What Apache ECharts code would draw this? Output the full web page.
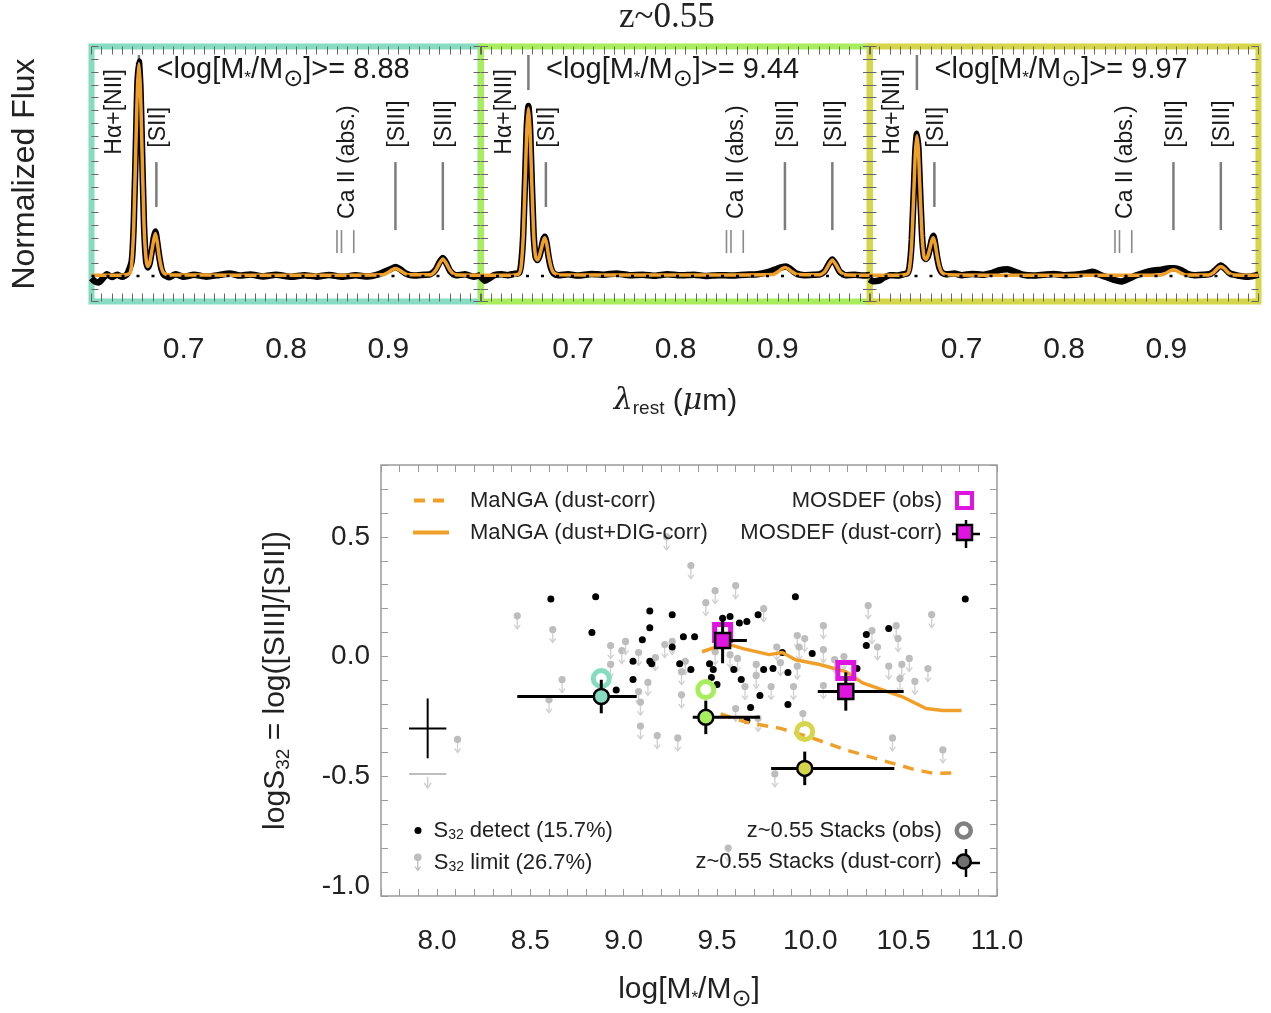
<!DOCTYPE html>
<html>
<head>
<meta charset="utf-8">
<title>S32 vs stellar mass, z~0.55 stacks</title>
<script src="https://cdn.jsdelivr.net/npm/echarts@6/dist/echarts.min.js"></script>
<style>
  html, body { margin: 0; padding: 0; background: #fff; }
  #chart { width: 1271px; height: 1013px; }
</style>
</head>
<body>
<div id="chart"></div>
<script>
// ---------- top: stacked spectra (rest wavelength in micron, normalized flux) ----------
const panelMass = ['8.88', '9.44', '9.97'];
const waveTickLabels = ['0.7', '0.8', '0.9'];

const spec1Obs = [[0.610,-0.010],[0.613,-0.025],[0.617,-0.030],[0.621,-0.012],[0.625,0.008],[0.630,-0.005],[0.635,0.006],[0.640,-0.004],[0.645,0.010],[0.6493,0.07],[0.6513,0.25],[0.6538,0.71],[0.6548,0.90],[0.6563,1.01],[0.6578,0.89],[0.6588,0.71],[0.6613,0.24],[0.6633,0.07],[0.6650,0.04],[0.6668,0.06],[0.6690,0.12],[0.6708,0.18],[0.6724,0.21],[0.6742,0.16],[0.6762,0.09],[0.6785,0.03],[0.6810,0.005],[0.686,-0.006],[0.692,0.008],[0.700,-0.004],[0.710,0.006],[0.722,-0.003],[0.735,0.005],[0.745,0.012],[0.755,0.002],[0.765,0.007],[0.778,-0.002],[0.790,0.006],[0.805,-0.004],[0.818,0.004],[0.830,-0.003],[0.842,0.005],[0.855,-0.004],[0.868,0.003],[0.880,-0.002],[0.890,0.008],[0.896,0.020],[0.902,0.032],[0.907,0.042],[0.912,0.030],[0.917,0.012],[0.925,0.002],[0.935,0.006],[0.941,0.008],[0.946,0.028],[0.950,0.065],[0.9532,0.085],[0.9565,0.062],[0.9605,0.022],[0.966,0.003],[0.975,0.008],[0.983,-0.004],[0.990,0.004]];
const spec1Fit = [[0.610,0.004],[0.640,0.004],[0.6473,0.012],[0.6493,0.06],[0.6513,0.24],[0.6538,0.70],[0.6548,0.88],[0.6563,1.00],[0.6578,0.88],[0.6588,0.70],[0.6613,0.24],[0.6633,0.08],[0.6650,0.045],[0.6668,0.06],[0.6690,0.12],[0.6708,0.17],[0.6724,0.20],[0.6742,0.16],[0.6762,0.09],[0.6785,0.035],[0.6810,0.012],[0.6860,0.005],[0.750,0.004],[0.850,0.004],[0.895,0.006],[0.900,0.018],[0.904,0.030],[0.907,0.035],[0.910,0.030],[0.914,0.018],[0.919,0.006],[0.941,0.006],[0.946,0.025],[0.950,0.060],[0.9532,0.080],[0.9565,0.060],[0.9605,0.025],[0.9655,0.006],[0.990,0.004]];

const spec2Obs = [[0.610,-0.005],[0.614,-0.022],[0.618,-0.012],[0.623,0.004],[0.630,0.008],[0.636,0.004],[0.642,0.010],[0.6473,0.015],[0.6493,0.06],[0.6513,0.20],[0.6538,0.57],[0.6548,0.71],[0.6563,0.80],[0.6578,0.71],[0.6588,0.57],[0.6613,0.21],[0.6633,0.09],[0.6650,0.075],[0.6668,0.09],[0.6690,0.13],[0.6708,0.17],[0.6724,0.185],[0.6742,0.15],[0.6762,0.085],[0.6785,0.035],[0.6810,0.012],[0.686,0.003],[0.695,0.008],[0.705,0.002],[0.718,0.010],[0.730,0.006],[0.742,0.012],[0.755,0.004],[0.768,0.006],[0.780,0.001],[0.792,0.008],[0.805,0.003],[0.818,0.006],[0.830,0.000],[0.842,0.004],[0.855,0.002],[0.868,0.006],[0.880,0.008],[0.890,0.018],[0.897,0.030],[0.903,0.040],[0.908,0.045],[0.913,0.030],[0.918,0.012],[0.926,0.004],[0.935,0.006],[0.941,0.008],[0.946,0.024],[0.950,0.058],[0.9532,0.078],[0.9565,0.056],[0.9605,0.020],[0.966,0.004],[0.975,0.006],[0.983,0.002],[0.990,0.005]];
const spec2Fit = [[0.610,0.003],[0.640,0.004],[0.6473,0.012],[0.6493,0.05],[0.6513,0.19],[0.6538,0.55],[0.6548,0.69],[0.6563,0.79],[0.6578,0.70],[0.6588,0.56],[0.6613,0.21],[0.6633,0.09],[0.6650,0.075],[0.6668,0.09],[0.6690,0.13],[0.6708,0.165],[0.6724,0.18],[0.6742,0.15],[0.6762,0.09],[0.6785,0.04],[0.6810,0.015],[0.6860,0.006],[0.750,0.005],[0.850,0.005],[0.895,0.007],[0.900,0.020],[0.904,0.034],[0.907,0.040],[0.910,0.034],[0.914,0.020],[0.919,0.007],[0.941,0.006],[0.946,0.022],[0.950,0.055],[0.9532,0.075],[0.9565,0.055],[0.9605,0.022],[0.9655,0.006],[0.990,0.004]];

const spec3Obs = [[0.610,-0.015],[0.614,-0.025],[0.619,-0.022],[0.624,-0.008],[0.630,0.004],[0.637,0.002],[0.643,0.008],[0.6473,0.014],[0.6493,0.05],[0.6513,0.17],[0.6538,0.47],[0.6548,0.59],[0.6563,0.67],[0.6578,0.60],[0.6588,0.48],[0.6613,0.19],[0.6633,0.09],[0.6650,0.08],[0.6668,0.09],[0.6690,0.13],[0.6708,0.17],[0.6724,0.19],[0.6742,0.15],[0.6762,0.085],[0.6785,0.035],[0.6810,0.015],[0.686,0.008],[0.693,0.012],[0.700,0.004],[0.710,0.010],[0.720,0.006],[0.730,0.015],[0.737,0.028],[0.745,0.032],[0.752,0.020],[0.760,0.006],[0.770,0.002],[0.780,0.006],[0.790,0.010],[0.800,0.004],[0.810,0.006],[0.820,0.012],[0.828,0.020],[0.835,0.006],[0.843,-0.008],[0.850,-0.020],[0.856,-0.026],[0.862,-0.015],[0.870,0.002],[0.878,0.015],[0.886,0.025],[0.895,0.030],[0.903,0.036],[0.908,0.036],[0.914,0.028],[0.920,0.012],[0.928,0.004],[0.936,0.006],[0.943,0.010],[0.948,0.028],[0.9532,0.050],[0.957,0.036],[0.962,0.012],[0.970,0.002],[0.980,-0.004],[0.990,0.006]];
const spec3Fit = [[0.610,0.003],[0.640,0.004],[0.6473,0.012],[0.6493,0.045],[0.6513,0.16],[0.6538,0.46],[0.6548,0.58],[0.6563,0.66],[0.6578,0.59],[0.6588,0.47],[0.6613,0.19],[0.6633,0.09],[0.6650,0.078],[0.6668,0.09],[0.6690,0.13],[0.6708,0.165],[0.6724,0.18],[0.6742,0.15],[0.6762,0.09],[0.6785,0.04],[0.6810,0.015],[0.6860,0.006],[0.750,0.004],[0.850,0.004],[0.895,0.005],[0.900,0.014],[0.904,0.025],[0.907,0.030],[0.910,0.025],[0.914,0.014],[0.919,0.005],[0.941,0.005],[0.946,0.016],[0.950,0.036],[0.9532,0.045],[0.9565,0.036],[0.9605,0.016],[0.9655,0.005],[0.990,0.004]];

const baseline = [[0.61, 0], [0.99, 0]];
const lineWaves = [0.6563, 0.6724, 0.8542, 0.9069, 0.9532];
const lineNames = ['Hα+[NII]', '[SII]', 'Ca II (abs.)', '[SIII]', '[SIII]'];
const caTriplet = [0.8498, 0.8542, 0.8662];

// ---------- bottom: logS32 vs stellar mass ----------
const massTickLabels = ['8.0', '8.5', '9.0', '9.5', '10.0', '10.5', '11.0'];
const s32TickLabels = ['-1.0', '-0.5', '0.0', '0.5'];

const detMass = [8.61, 8.85, 8.83, 9.14, 9.26, 9.14, 9.10, 9.32, 9.38, 9.26, 9.05, 9.14, 9.15, 9.30, 9.36, 9.46, 9.48, 9.47, 9.50, 9.05, 8.96, 9.53, 9.57, 9.62, 9.66, 9.72, 9.59, 9.63, 9.92, 10.83, 9.75, 9.80, 9.88, 9.85, 10.01, 10.30, 10.30, 10.42, 10.25, 9.73, 9.88, 9.68, 9.66];
const detS32 = [0.24, 0.25, 0.10, 0.19, 0.175, 0.12, 0.07, 0.083, 0.083, 0.04, -0.02, -0.02, -0.03, -0.03, -0.054, -0.03, -0.054, -0.087, -0.117, -0.096, -0.14, 0.16, 0.167, 0.14, 0.146, 0.175, -0.054, -0.096, 0.25, 0.24, -0.054, -0.05, -0.067, 0.017, 0.013, 0.092, 0.046, 0.117, -0.05, -0.163, -0.20, -0.213, -0.267];

const limMass = [8.43, 8.62, 8.93, 8.99, 9.01, 9.08, 9.17, 9.22, 9.26, 8.93, 9.33, 9.23, 8.67, 9.36, 9.49, 9.60, 9.44, 8.60, 9.13, 9.08, 9.09, 9.09, 9.18, 9.29, 9.31, 9.31, 9.49, 9.57, 9.61, 9.60, 9.65, 8.11, 9.75, 10.31, 10.65, 10.07, 9.93, 9.97, 9.94, 10.33, 10.46, 10.47, 10.36, 10.53, 10.49, 10.42, 10.63, 9.82, 9.93, 9.71, 10.18, 10.07, 10.48, 10.56, 10.13, 10.07, 9.91, 9.79, 9.71, 9.84, 9.96, 9.72, 10.44, 10.71, 9.56, 9.81];
const limS32 = [0.17, 0.113, 0.046, 0.025, 0.063, 0.017, -0.004, 0.05, 0.063, -0.033, -0.02, 0.50, -0.096, 0.38, 0.275, 0.296, 0.225, -0.18, -0.108, -0.146, -0.19, -0.29, -0.33, -0.34, -0.16, -0.063, 0.02, 0.008, -0.008, -0.217, -0.125, -0.346, 0.20, 0.213, 0.175, 0.129, 0.088, 0.075, 0.04, 0.108, 0.129, 0.075, 0.04, -0.008, -0.033, -0.04, -0.05, 0.04, -0.04, -0.033, 0.0, 0.029, -0.092, -0.104, -0.013, -0.121, -0.125, -0.125, -0.079, -0.025, -0.238, -0.258, -0.34, -0.39, -0.80, -0.49];

const mangaDustMass = [9.52, 9.66, 9.84, 10.01, 10.19, 10.37, 10.55, 10.66, 10.79];
const mangaDustS32 = [-0.24, -0.275, -0.30, -0.34, -0.39, -0.43, -0.47, -0.488, -0.485];
const mangaDigMass = [9.42, 9.55, 9.64, 9.78, 9.85, 9.92, 10.05, 10.19, 10.28, 10.49, 10.62, 10.71, 10.81];
const mangaDigS32 = [0.02, 0.054, 0.033, 0.008, 0.017, -0.013, -0.033, -0.063, -0.11, -0.167, -0.217, -0.225, -0.225];

const stackMass = [8.88, 9.44, 9.97];
const stackObs = [-0.092, -0.138, -0.313];
const stackCorr = [-0.167, -0.254, -0.467];
const stackMassLo = [8.43, 9.37, 9.79];
const stackMassHi = [9.07, 9.73, 10.45];
const stackErr = [0.07, 0.07, 0.07];

const mosMass = [9.53, 10.19];
const mosObs = [0.10, -0.058];
const mosCorr = [0.067, -0.146];
const mosMassLo = [9.49, 10.04];
const mosMassHi = [9.66, 10.50];
const mosErr = [0.095, 0.08];

const typical = [[7.95, -0.30, 0.10, 0.125]];
const typicalLimit = [[7.95, -0.49, 0.10]];

// ---------- styling ----------
const FONT = '"Liberation Sans", Arial, "DejaVu Sans", sans-serif';
const panelColors = ['#86dcc0', '#a8ee5c', '#d6d64a'];
const ORANGE = '#f0a028';
const MAGENTA = '#e014e0';
const topLefts = [91.5, 481, 869.5];

const chart = echarts.init(document.getElementById('chart'));

function pickLabel(v, step, list) {
  const r = Math.round(v / step);
  const s = (r * step).toFixed(1);
  return list.includes(s) ? s : '';
}

function lineMarks(params, api) {
  const i = params.dataIndex;
  const x = api.coord([api.value(0), 0])[0];
  const y = f => api.coord([0.8, f])[1];
  const grey = { stroke: '#7c7c7c', lineWidth: 2.5 };
  const label = (dx, f, text) => ({
    type: 'text', x: x + dx, y: y(f), rotation: Math.PI / 2,
    style: { text: text, fill: '#1a1a1a', font: '23px ' + FONT, align: 'center', verticalAlign: 'middle' }
  });
  const tick = (xx, f0, f1) => ({ type: 'line', shape: { x1: xx, y1: y(f0), x2: xx, y2: y(f1) }, style: grey });
  const kids = [];
  if (i === 0) {
    kids.push(label(-24, 0.772, lineNames[0]));
    kids.push(tick(x, 0.875, 1.04));
  } else if (i === 1) {
    kids.push(label(3, 0.70, lineNames[1]));
    kids.push(tick(x + 1, 0.325, 0.536));
  } else if (i === 2) {
    kids.push(label(6, 0.536, lineNames[2]));
    caTriplet.forEach(w => {
      const cx = api.coord([w, 0])[0];
      kids.push({ type: 'line', shape: { x1: cx, y1: y(0.108), x2: cx, y2: y(0.216) }, style: { stroke: '#8a8a8a', lineWidth: 1.6 } });
    });
  } else {
    kids.push(label(2, 0.715, lineNames[i]));
    kids.push(tick(x, 0.216, 0.536));
  }
  return { type: 'group', children: kids };
}

function errorBars(params, api) {
  const c = api.coord([api.value(0), api.value(1)]);
  const l = api.coord([api.value(2), api.value(1)]);
  const r = api.coord([api.value(3), api.value(1)]);
  const t = api.coord([api.value(0), api.value(1) + api.value(4)]);
  const b = api.coord([api.value(0), api.value(1) - api.value(4)]);
  const st = { stroke: '#000', lineWidth: 3 };
  return {
    type: 'group', children: [
      { type: 'line', shape: { x1: l[0], y1: c[1], x2: r[0], y2: c[1] }, style: st },
      { type: 'line', shape: { x1: c[0], y1: t[1], x2: c[0], y2: b[1] }, style: st }
    ]
  };
}

function limitArrow(params, api) {
  const p = api.coord([api.value(0), api.value(1)]);
  const st = { stroke: '#cfcfcf', lineWidth: 1.3, fill: null };
  return {
    type: 'group', children: [
      { type: 'line', shape: { x1: p[0], y1: p[1], x2: p[0], y2: p[1] + 13 }, style: st },
      { type: 'polyline', shape: { points: [[p[0] - 3, p[1] + 9], [p[0], p[1] + 13], [p[0] + 3, p[1] + 9]] }, style: st },
      { type: 'circle', shape: { cx: p[0], cy: p[1], r: 3.6 }, style: { fill: '#bdbdbd' } }
    ]
  };
}

function typicalErr(params, api) {
  const c = api.coord([api.value(0), api.value(1)]);
  const l = api.coord([api.value(0) - api.value(2), api.value(1)]);
  const r = api.coord([api.value(0) + api.value(2), api.value(1)]);
  const t = api.coord([api.value(0), api.value(1) + api.value(3)]);
  const b = api.coord([api.value(0), api.value(1) - api.value(3)]);
  const st = { stroke: '#000', lineWidth: 2 };
  return {
    type: 'group', children: [
      { type: 'line', shape: { x1: l[0], y1: c[1], x2: r[0], y2: c[1] }, style: st },
      { type: 'line', shape: { x1: c[0], y1: t[1], x2: c[0], y2: b[1] }, style: st }
    ]
  };
}

function typicalLim(params, api) {
  const c = api.coord([api.value(0), api.value(1)]);
  const l = api.coord([api.value(0) - api.value(2), api.value(1)]);
  const r = api.coord([api.value(0) + api.value(2), api.value(1)]);
  const st = { stroke: '#bdbdbd', lineWidth: 2, fill: null };
  return {
    type: 'group', children: [
      { type: 'line', shape: { x1: l[0], y1: c[1], x2: r[0], y2: c[1] }, style: st },
      { type: 'line', shape: { x1: c[0], y1: c[1] + 3, x2: c[0], y2: c[1] + 14 }, style: { stroke: '#cfcfcf', lineWidth: 1.5 } },
      { type: 'polyline', shape: { points: [[c[0] - 3.5, c[1] + 9], [c[0], c[1] + 14], [c[0] + 3.5, c[1] + 9]] }, style: { stroke: '#cfcfcf', lineWidth: 1.5, fill: null } }
    ]
  };
}

const grid = topLefts.map((l, p) => ({
  left: l, top: 46.5, width: 389, height: 255,
  show: true, borderColor: panelColors[p], borderWidth: 6, backgroundColor: 'transparent'
}));
grid.push({ left: 381, top: 465, width: 616, height: 433, show: true, borderColor: '#9a9a9a', borderWidth: 1.5 });

const noLine = { show: false, onZero: false };
const topTick = { show: true, inside: true, length: 8, lineStyle: { color: '#666', width: 1 } };
const xAxis = [], yAxis = [];
const subRich = {
  a: { fontSize: 30, lineHeight: 34, fontFamily: FONT, color: '#222' },
  s: { fontSize: 19, lineHeight: 16, verticalAlign: 'bottom', fontFamily: FONT, color: '#222' },
  t: { fontSize: 17, fontFamily: FONT, color: '#222', padding: [16, 0, 0, 0] },
  o: { fontSize: 24, fontFamily: '"DejaVu Sans", sans-serif', color: '#222', padding: [20, 0, 0, 0] },
  l: { fontSize: 30, lineHeight: 34, fontFamily: '"DejaVu Serif", serif', fontStyle: 'italic', color: '#222' }
};

for (let p = 0; p < 3; p++) {
  xAxis.push({
    type: 'value', gridIndex: p, position: 'bottom', min: 0.61, max: 0.99, interval: 0.01,
    axisLine: noLine, splitLine: { show: false }, axisTick: topTick,
    axisLabel: { formatter: v => Math.abs(v * 10 - Math.round(v * 10)) < 1e-6 ? pickLabel(v, 0.1, waveTickLabels) : '', margin: 33, fontSize: 30, color: '#222', fontFamily: FONT },
    name: p === 1 ? '{l|λ}{s|rest}{a| (}{l|μ}{a|m)}' : '', nameLocation: 'middle', nameGap: 83,
    nameTextStyle: { rich: subRich }
  });
  xAxis.push({
    type: 'value', gridIndex: p, position: 'top', min: 0.61, max: 0.99, interval: 0.01,
    axisLine: noLine, splitLine: { show: false }, axisTick: topTick, axisLabel: { show: false }
  });
  yAxis.push({
    type: 'value', gridIndex: p, position: 'left', min: -0.12, max: 1.08, interval: 0.06,
    axisLine: noLine, splitLine: { show: false }, axisTick: Object.assign({}, topTick, { length: 7 }), axisLabel: { show: false },
    name: p === 0 ? 'Normalized Flux' : '', nameLocation: 'middle', nameGap: 50,
    nameTextStyle: { fontSize: 32, fontFamily: FONT, color: '#222' }
  });
  yAxis.push({
    type: 'value', gridIndex: p, position: 'right', min: -0.12, max: 1.08, interval: 0.06,
    axisLine: noLine, splitLine: { show: false }, axisTick: Object.assign({}, topTick, { length: 7 }), axisLabel: { show: false }
  });
}

const botTick = { show: true, inside: true, length: 7, lineStyle: { color: '#9a9a9a', width: 1 } };
xAxis.push({
  type: 'value', gridIndex: 3, position: 'bottom', min: 7.7, max: 11.0, interval: 0.1,
  axisLine: noLine, splitLine: { show: false }, axisTick: botTick,
  axisLabel: { formatter: v => Math.abs(v * 2 - Math.round(v * 2)) < 1e-6 ? pickLabel(v, 0.5, massTickLabels) : '', margin: 31, fontSize: 28, color: '#222', fontFamily: FONT },
  name: '{a|log[M}{t|*}{a|/M}{o|⊙}{a|]}', nameLocation: 'middle', nameGap: 72,
  nameTextStyle: { rich: subRich }
});
xAxis.push({
  type: 'value', gridIndex: 3, position: 'top', min: 7.7, max: 11.0, interval: 0.1,
  axisLine: noLine, splitLine: { show: false }, axisTick: botTick, axisLabel: { show: false }
});
yAxis.push({
  type: 'value', gridIndex: 3, position: 'left', min: -1.0, max: 0.8, interval: 0.1,
  axisLine: noLine, splitLine: { show: false }, axisTick: botTick,
  axisLabel: {
    formatter: v => {
      if (Math.abs(v * 2 - Math.round(v * 2)) > 1e-6) return '';
      const s = pickLabel(v, 0.5, s32TickLabels);
      return s === '-1.0' ? '{u|' + s + '}' : s;
    },
    margin: 11, fontSize: 28, color: '#222', fontFamily: FONT,
    rich: { u: { fontSize: 28, fontFamily: FONT, color: '#222', padding: [0, 0, 20, 0] } }
  },
  name: '{a|logS}{s|32}{a| = log([SIII]/[SII])}', nameLocation: 'middle', nameGap: 88,
  nameTextStyle: { rich: subRich }
});
yAxis.push({
  type: 'value', gridIndex: 3, position: 'right', min: -1.0, max: 0.8, interval: 0.1,
  axisLine: noLine, splitLine: { show: false }, axisTick: botTick, axisLabel: { show: false }
});

const series = [];
const specObs = [spec1Obs, spec2Obs, spec3Obs];
const specFit = [spec1Fit, spec2Fit, spec3Fit];
for (let p = 0; p < 3; p++) {
  series.push({
    type: 'custom', xAxisIndex: 2 * p, yAxisIndex: 2 * p, z: 1, silent: true,
    data: lineWaves.map(w => [w]), renderItem: lineMarks
  });
  series.push({
    type: 'line', xAxisIndex: 2 * p, yAxisIndex: 2 * p, z: 2, data: specObs[p], symbol: 'none', smooth: 0.2,
    lineStyle: { color: '#000', width: 6.5 }, silent: true
  });
  series.push({
    type: 'line', xAxisIndex: 2 * p, yAxisIndex: 2 * p, z: 3, data: specFit[p], symbol: 'none', smooth: 0.2,
    lineStyle: { color: ORANGE, width: 3.5 }, silent: true
  });
  series.push({
    type: 'line', xAxisIndex: 2 * p, yAxisIndex: 2 * p, z: 4, data: baseline, symbol: 'none',
    lineStyle: { color: '#000', width: 2.5, type: [3, 12] }, silent: true
  });
}

const B = { xAxisIndex: 6, yAxisIndex: 6 };
series.push(Object.assign({
  name: 'S32 limit (26.7%)', type: 'custom', z: 1, itemStyle: { color: '#bdbdbd' },
  data: limMass.map((m, i) => [m, limS32[i]]), renderItem: limitArrow
}, B));
series.push(Object.assign({
  name: 'S32 detect (15.7%)', type: 'scatter', z: 2, symbol: 'circle', symbolSize: 7,
  itemStyle: { color: '#000', opacity: 1 }, data: detMass.map((m, i) => [m, detS32[i]])
}, B));
series.push(Object.assign({
  name: 'MaNGA (dust-corr)', type: 'line', z: 3, symbol: 'none',
  lineStyle: { color: ORANGE, width: 3.5, type: [11, 8] }, itemStyle: { color: ORANGE },
  data: mangaDustMass.map((m, i) => [m, mangaDustS32[i]])
}, B));
series.push(Object.assign({
  name: 'MaNGA (dust+DIG-corr)', type: 'line', z: 3, symbol: 'none',
  lineStyle: { color: ORANGE, width: 3.5 }, itemStyle: { color: ORANGE },
  data: mangaDigMass.map((m, i) => [m, mangaDigS32[i]])
}, B));
series.push(Object.assign({ type: 'custom', z: 3, silent: true, data: typical, renderItem: typicalErr }, B));
series.push(Object.assign({ type: 'custom', z: 3, silent: true, data: typicalLimit, renderItem: typicalLim }, B));
series.push(Object.assign({
  name: 'z~0.55 Stacks (obs)', type: 'scatter', z: 4, symbol: 'circle', symbolSize: 16,
  itemStyle: { color: 'rgba(255,255,255,0)', borderColor: '#808080', borderWidth: 5, opacity: 1 },
  data: stackMass.map((m, i) => ({ value: [m, stackObs[i]], itemStyle: { borderColor: panelColors[i], borderWidth: 5 } }))
}, B));
series.push(Object.assign({
  type: 'custom', z: 5, silent: true, renderItem: errorBars,
  data: stackMass.map((m, i) => [m, stackCorr[i], stackMassLo[i], stackMassHi[i], stackErr[i]])
}, B));
series.push(Object.assign({
  name: 'z~0.55 Stacks (dust-corr)', type: 'scatter', z: 6, symbol: 'circle', symbolSize: 15,
  itemStyle: { color: '#707070', borderColor: '#000', borderWidth: 2.5, opacity: 1 },
  data: stackMass.map((m, i) => ({ value: [m, stackCorr[i]], itemStyle: { color: panelColors[i] } }))
}, B));
series.push(Object.assign({
  name: 'MOSDEF (obs)', type: 'scatter', z: 4, symbol: 'rect', symbolSize: 16,
  itemStyle: { color: 'rgba(255,255,255,0)', borderColor: MAGENTA, borderWidth: 5, opacity: 1 },
  data: mosMass.map((m, i) => [m, mosObs[i]])
}, B));
series.push(Object.assign({
  type: 'custom', z: 5, silent: true, renderItem: errorBars,
  data: mosMass.map((m, i) => [m, mosCorr[i], mosMassLo[i], mosMassHi[i], mosErr[i]])
}, B));
series.push(Object.assign({
  name: 'MOSDEF (dust-corr)', type: 'scatter', z: 6, symbol: 'rect', symbolSize: 15,
  itemStyle: { color: MAGENTA, borderColor: '#000', borderWidth: 2.5, opacity: 1 },
  data: mosMass.map((m, i) => [m, mosCorr[i]])
}, B));

const legText = { fontSize: 22, fontFamily: FONT, color: '#222', lineHeight: 23 };
const legS32Rich = {
  p: Object.assign({}, legText, { padding: [0, 0, 0, 7] }),
  m: legText,
  s: { fontSize: 14, lineHeight: 10, verticalAlign: 'bottom', fontFamily: FONT, color: '#222' }
};
const s32Fmt = name => '{p|S}{s|32}{m|' + name.slice(3) + '}';

const legend = [
  {
    data: [
      { name: 'MaNGA (dust-corr)', icon: 'path://M0,0h11v4h-11Z M19,0h11v4h-11Z M34,0h0.01v4h-0.01Z' },
      { name: 'MaNGA (dust+DIG-corr)', icon: 'path://M0,0h36v4h-36Z' }
    ],
    orient: 'vertical', left: 413, top: 489.5, padding: 0,
    itemWidth: 36, itemHeight: 4, itemGap: 10, selectedMode: false,
    itemStyle: { color: ORANGE, borderWidth: 0 },
    formatter: n => '{t|' + n + '}',
    textStyle: { rich: { t: Object.assign({}, legText, { padding: [0, 0, 0, 16] }) } }
  },
  {
    data: [
      { name: 'MOSDEF (obs)', itemStyle: { color: 'rgba(255,255,255,0)', borderColor: MAGENTA, borderWidth: 4 } },
      { name: 'MOSDEF (dust-corr)', itemStyle: { color: MAGENTA, borderColor: '#000', borderWidth: 2.5 } }
    ],
    orient: 'vertical', right: 297, top: 489.5, padding: 0, align: 'right',
    itemWidth: 15, itemHeight: 15, itemGap: 10, selectedMode: false,
    formatter: n => '{t|' + n + '}',
    textStyle: { rich: { t: Object.assign({}, legText, { padding: [0, 10, 0, 0] }) } }
  },
  {
    data: [{ name: 'S32 detect (15.7%)', icon: 'circle' }], orient: 'vertical', left: 414.5, top: 819.5, padding: 0,
    itemWidth: 7, itemHeight: 7, selectedMode: false, formatter: s32Fmt, textStyle: { rich: legS32Rich }
  },
  {
    data: [{ name: 'S32 limit (26.7%)', icon: 'path://M5,1a4,4 0 1,1 -0.01,0Z M4.3,9h1.4v9.5h-1.4Z M1.6,15.2l1,-0.8l2.4,3.2l2.4,-3.2l1,0.8l-3.4,4.6Z' }],
    orient: 'vertical', left: 414, top: 851.5, padding: 0,
    itemWidth: 8, itemHeight: 18, selectedMode: false, formatter: s32Fmt, textStyle: { rich: legS32Rich }
  },
  {
    data: [
      { name: 'z~0.55 Stacks (obs)', itemStyle: { color: 'rgba(255,255,255,0)', borderColor: '#808080', borderWidth: 4.5 } },
      { name: 'z~0.55 Stacks (dust-corr)', itemStyle: { color: '#707070', borderColor: '#000', borderWidth: 2.5 } }
    ],
    orient: 'vertical', right: 298, top: 819.5, padding: 0, align: 'right',
    itemWidth: 14, itemHeight: 14, itemGap: 9, selectedMode: false,
    formatter: n => '{t|' + n + '}',
    textStyle: { rich: { t: Object.assign({}, legText, { padding: [0, 10, 0, 0] }) } }
  }
];

const massRich = {
  a: { fontSize: 29, lineHeight: 32, fontFamily: FONT, fill: '#1a1a1a' },
  s: { fontSize: 17, fontFamily: FONT, fill: '#1a1a1a', padding: [16, 0, 0, 0] },
  o: { fontSize: 24, fontFamily: '"DejaVu Sans", sans-serif', fill: '#1a1a1a', padding: [20, 0, 0, 0] }
};
const graphic = panelMass.map((m, p) => ({
  type: 'text', x: topLefts[p] + 65, y: 70, z: 10,
  style: { text: '{a|<log[M}{s|*}{a|/M}{o|⊙}{a|]>= ' + m + '}', rich: massRich, verticalAlign: 'middle', align: 'left' }
}));
[[966, 534], [966, 863]].forEach(c => {
  graphic.push({ type: 'line', z: 0, shape: { x1: c[0] - 14, y1: c[1], x2: c[0] + 14, y2: c[1] }, style: { stroke: '#000', lineWidth: 2.5 } });
  graphic.push({ type: 'line', z: 0, shape: { x1: c[0], y1: c[1] - 14, x2: c[0], y2: c[1] + 14 }, style: { stroke: '#000', lineWidth: 2.5 } });
});

chart.setOption({
  animation: false,
  backgroundColor: '#fff',
  title: {
    text: 'z~0.55', left: 619, top: 0, padding: 0,
    textStyle: { fontFamily: '"Liberation Serif", "DejaVu Serif", serif', fontSize: 35, fontWeight: 'normal', color: '#222' }
  },
  grid: grid,
  xAxis: xAxis,
  yAxis: yAxis,
  legend: legend,
  graphic: graphic,
  series: series
});
</script>
</body>
</html>
